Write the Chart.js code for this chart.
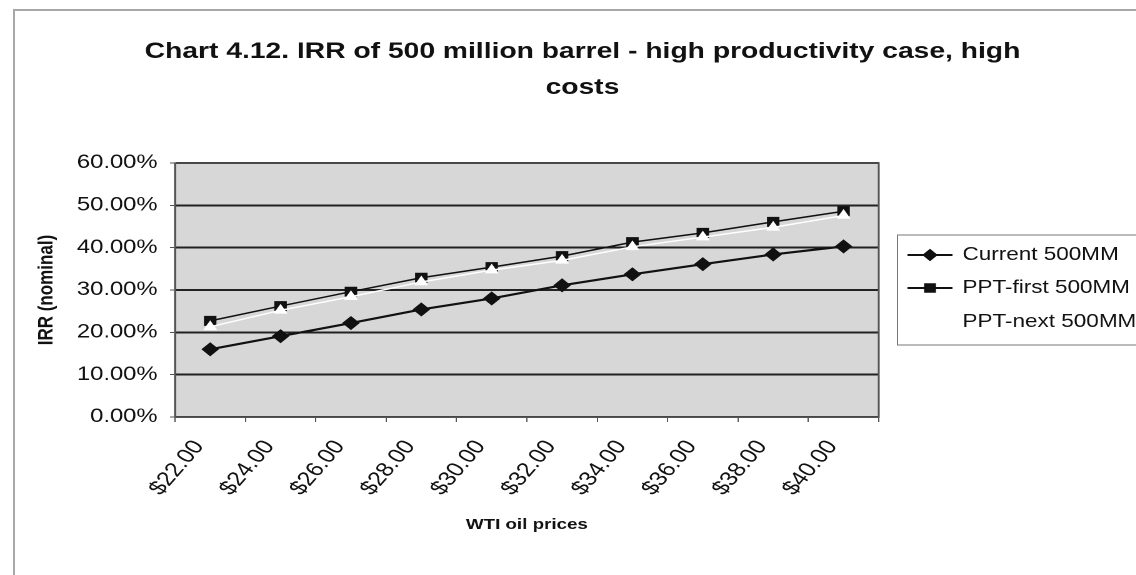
<!DOCTYPE html>
<html>
<head>
<meta charset="utf-8">
<script src="https://cdn.jsdelivr.net/npm/chart.js@4"></script>
<style>
    html, body { margin: 0; padding: 0; background: #fff; overflow: hidden; width: 1136px; height: 575px; }
    #frame { position: absolute; left: 13px; top: 9px; width: 1200px; height: 600px;
             border-left: 2px solid #a8a8a8; border-top: 2px solid #a8a8a8; }
    #wrap { position: absolute; left: 0; top: 0; width: 909px; height: 575px;
            transform: scaleX(1.25); transform-origin: 0 0; }
</style>
</head>
<body>
<div id="frame"></div>
<div id="wrap"><canvas id="irrChart" width="909" height="575"></canvas></div>
<script>
// WTI oil prices (categories)
const prices = ['$22.00', '$24.00', '$26.00', '$28.00', '$30.00', '$32.00', '$34.00', '$36.00', '$38.00', '$40.00'];

// IRR (nominal), in percent
const currentIrr = [16.0, 19.1, 22.2, 25.4, 28.0, 31.1, 33.7, 36.1, 38.4, 40.3];
const pptFirstIrr = [22.7, 26.2, 29.6, 32.9, 35.4, 38.0, 41.3, 43.5, 46.1, 48.6];
const pptNextIrr = [21.3, 25.2, 28.4, 31.9, 34.7, 37.0, 40.2, 42.5, 44.8, 47.6];

const yTicks = [0, 10, 20, 30, 40, 50, 60];

const FONT = 'Arial, "Liberation Sans", sans-serif';

// gray plot background
const plotBackground = {
    id: 'plotBackground',
    beforeDraw(chart) {
        const { ctx, chartArea: a } = chart;
        ctx.save();
        ctx.fillStyle = '#d7d7d7';
        ctx.fillRect(a.left, a.top, a.right - a.left, a.bottom - a.top);
        ctx.restore();
    },
    afterDraw(chart) {
        const { ctx, chartArea: a } = chart;
        ctx.save();
        ctx.strokeStyle = '#555';
        ctx.lineWidth = 1.5;
        ctx.strokeRect(a.left, a.top, a.right - a.left, a.bottom - a.top);
        ctx.restore();
    }
};

// legend box on the right, line + marker like the spreadsheet legend
const legendBox = {
    id: 'legendBox',
    afterDraw(chart) {
        const ctx = chart.ctx;
        const rowY = [255, 288, 322];
        ctx.save();
        ctx.strokeStyle = '#777';
        ctx.lineWidth = 1;
        ctx.strokeRect(718, 235, 300, 110);
        chart.data.datasets.forEach((ds, i) => {
            const y = rowY[i];
            ctx.strokeStyle = ds.borderColor;
            ctx.lineWidth = 2;
            ctx.beginPath();
            ctx.moveTo(726, y);
            ctx.lineTo(762, y);
            ctx.stroke();
            ctx.fillStyle = ds.pointBackgroundColor;
            ctx.strokeStyle = ds.pointBorderColor;
            ctx.lineWidth = 1;
            Chart.helpers.drawPoint(ctx, { pointStyle: ds.pointStyle, radius: ds.pointRadius, rotation: 0, borderWidth: 1 }, 744, y);
            ctx.fillStyle = '#111';
            ctx.font = '18px ' + FONT;
            ctx.textBaseline = 'middle';
            ctx.textAlign = 'left';
            ctx.fillText(ds.label, 770, y);
        });
        ctx.restore();
    }
};

const ctx = document.getElementById('irrChart').getContext('2d');
new Chart(ctx, {
    type: 'line',
    data: {
        labels: prices,
        datasets: [
            {
                label: 'Current 500MM',
                data: currentIrr,
                borderColor: '#111',
                borderWidth: 2.2,
                pointStyle: 'rectRot',
                pointRadius: 5.5,
                pointBackgroundColor: '#111',
                pointBorderColor: '#111',
                order: 2
            },
            {
                label: 'PPT-first 500MM',
                data: pptFirstIrr,
                borderColor: '#111',
                borderWidth: 1.5,
                pointStyle: 'rect',
                pointRadius: 6,
                pointBackgroundColor: '#111',
                pointBorderColor: '#111',
                order: 1
            },
            {
                label: 'PPT-next 500MM',
                data: pptNextIrr,
                borderColor: '#fff',
                borderWidth: 1.5,
                pointStyle: 'triangle',
                pointRadius: 5,
                pointBackgroundColor: '#fff',
                pointBorderColor: '#fff',
                order: 0
            }
        ]
    },
    options: {
        responsive: false,
        animation: false,
        devicePixelRatio: 2,
        layout: { padding: { left: 23, right: 0, top: 0, bottom: 0 } },
        plugins: {
            legend: { display: false },
            tooltip: { enabled: false },
            title: {
                display: true,
                text: ['Chart 4.12. IRR of 500 million barrel - high productivity case, high', 'costs'],
                color: '#111',
                font: { family: FONT, size: 22.6, weight: 'bold', lineHeight: 36 / 22.6 },
                padding: { top: 34, bottom: 57 }
            }
        },
        scales: {
            x: {
                offset: true,
                grid: { display: true, drawOnChartArea: false, offset: true, tickLength: 5, color: '#555' },
                border: { color: '#555', width: 1.5 },
                ticks: {
                    autoSkip: false, minRotation: 55, maxRotation: 55, padding: 14, labelOffset: -9,
                    color: '#111', font: { family: FONT, size: 20 }
                },
                title: {
                    display: true, text: 'WTI oil prices', color: '#111',
                    font: { family: FONT, size: 15, weight: 'bold' },
                    padding: { top: 0, bottom: 41 }
                },
                afterFit(s) { s.height = 158; }
            },
            y: {
                min: 0,
                max: 60,
                afterBuildTicks(s) { s.ticks = yTicks.map(v => ({ value: v })); },
                ticks: {
                    padding: 10, color: '#111', font: { family: FONT, size: 19 },
                    callback: v => v.toFixed(2) + '%'
                },
                grid: { color: '#222', lineWidth: 2, tickLength: 4, tickColor: '#555', tickWidth: 1 },
                border: { color: '#555', width: 1.5 },
                title: {
                    display: true, text: 'IRR (nominal)', color: '#111',
                    font: { family: FONT, size: 17, weight: 'bold' },
                    padding: { top: 4, bottom: 0 }
                },
                afterFit(s) { s.width = 117; }
            },
            yR: {
                type: 'linear',
                position: 'right',
                grid: { display: false, drawTicks: false },
                border: { display: false },
                ticks: { display: false },
                afterFit(s) { s.width = 206; }
            }
        }
    },
    plugins: [plotBackground, legendBox]
});
</script>
</body>
</html>
